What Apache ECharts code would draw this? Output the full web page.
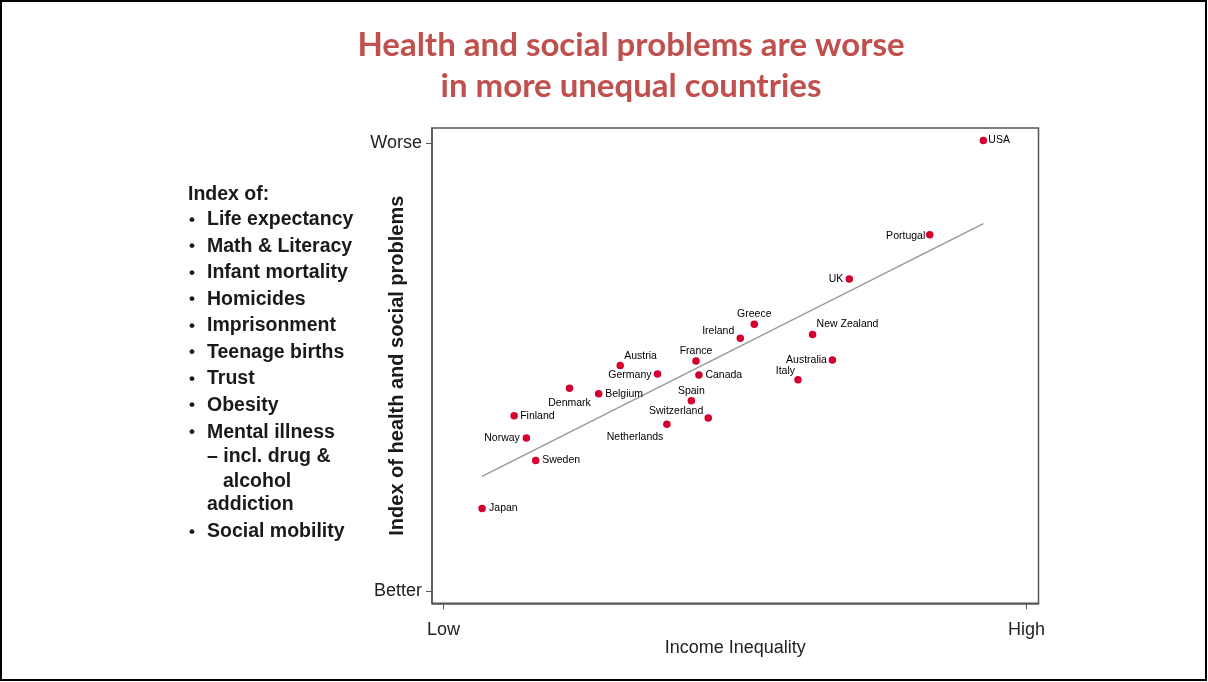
<!DOCTYPE html>
<html>
<head>
<meta charset="utf-8">
<script src="https://cdn.jsdelivr.net/npm/echarts@6/dist/echarts.min.js"></script>
<style>
html,body{margin:0;padding:0;background:#fff;}
#chart{width:1208px;height:682px;}
</style>
</head>
<body>
<div id="chart"></div>
<script>
// ---- data ----
const countries = ['USA','Portugal','UK','Greece','New Zealand','Ireland','France','Australia','Austria','Germany','Canada','Italy','Denmark','Belgium','Spain','Finland','Switzerland','Netherlands','Norway','Sweden','Japan'];
const incomeInequality = [92.6, 83.4, 69.6, 53.3, 63.3, 50.9, 43.3, 66.7, 30.3, 36.7, 43.8, 60.8, 21.6, 26.6, 42.5, 12.1, 45.4, 38.3, 14.2, 15.8, 6.6];
const healthSocialIndex = [100.6, 79.6, 69.7, 59.6, 57.3, 56.5, 51.4, 51.6, 50.4, 48.5, 48.3, 47.2, 45.3, 44.1, 42.5, 39.2, 38.7, 37.3, 34.2, 29.2, 18.5];
const tickValues = [0, 100];
const xTickLabels = ['Low', 'High'];
const yTickLabels = ['Better', 'Worse'];
const titleLines = ['Health and social problems are worse', 'in more unequal countries'];
const indexHeading = 'Index of:';
const indexItems = [
  ['Life expectancy'], ['Math & Literacy'], ['Infant mortality'], ['Homicides'],
  ['Imprisonment'], ['Teenage births'], ['Trust'], ['Obesity'],
  ['Mental illness', '– incl. drug &', '  alcohol', 'addiction'], ['Social mobility']
];

// ---- label placement (style only) ----
const labelPlacement = {
  'USA':[5,0,'left'], 'Portugal':[-4.5,1,'right'], 'UK':[-6,0.5,'right'], 'Greece':[0,-10,'center'],
  'New Zealand':[4,-10,'left'], 'Ireland':[-6,-7,'right'], 'France':[0,-10,'center'], 'Australia':[-5.5,0,'right'],
  'Austria':[4,-9,'left'], 'Germany':[-6,1,'right'], 'Canada':[6.5,0,'left'], 'Italy':[-3,-9,'right'],
  'Denmark':[0,15,'center'], 'Belgium':[6.5,0,'left'], 'Spain':[0,-10,'center'], 'Finland':[6,0,'left'],
  'Switzerland':[-5,-7,'right'], 'Netherlands':[-3.5,13,'right'], 'Norway':[-6.5,0,'right'], 'Sweden':[6.5,0,'left'],
  'Japan':[7,0,'left']
};

// ---- least squares fit ----
const n = incomeInequality.length;
const mx = incomeInequality.reduce((a,b)=>a+b,0)/n;
const my = healthSocialIndex.reduce((a,b)=>a+b,0)/n;
let sxy = 0, sxx = 0;
for (let i=0;i<n;i++){ sxy += (incomeInequality[i]-mx)*(healthSocialIndex[i]-my); sxx += (incomeInequality[i]-mx)**2; }
const slope = sxy/sxx, intercept = my - slope*mx;
const xMin = Math.min(...incomeInequality), xMax = Math.max(...incomeInequality);
const fitLine = [[xMin, intercept+slope*xMin],[xMax, intercept+slope*xMax]];

const scatterData = countries.map((c,i)=>{
  const p = labelPlacement[c];
  return {
    name: c,
    value: [incomeInequality[i], healthSocialIndex[i]],
    label: { position: 'inside', align: p[2], verticalAlign: 'middle', offset: [p[0], p[1]] }
  };
});

// ---- left text block ----
const FONT = 'Arial, "Liberation Sans", Helvetica, sans-serif';
const TXT = '#1a1a1a';
const listGraphics = [];
listGraphics.push({type:'text', x:188, y:195, style:{text:indexHeading, font:'bold 19.5px '+FONT, fill:TXT, align:'left', verticalAlign:'middle'}});
const lineYs = [220, 246.5, 273, 299.5, 326, 352.5, 379, 405.5, 432.5, 457, 481.5, 505, 532];
let li = 0;
indexItems.forEach(item=>{
  item.forEach((line,k)=>{
    const y = lineYs[li++];
    if (k===0) listGraphics.push({type:'text', x:192, y:y, style:{text:'•', font:'bold 17px '+FONT, fill:TXT, align:'center', verticalAlign:'middle'}});
    const indent = line.startsWith('  ') ? 16 : 0;
    listGraphics.push({type:'text', x:207+indent, y:y, style:{text:line.trim(), font:'bold 19.5px '+FONT, fill:TXT, align:'left', verticalAlign:'middle'}});
  });
});

const TITLE_FONT = 'bold 33px Lato, "Open Sans", sans-serif';

const chart = echarts.init(document.getElementById('chart'), null, {renderer:'canvas'});
chart.setOption({
  backgroundColor:'#fff',
  animation:false,
  graphic: [
    {type:'rect', shape:{x:1,y:1,width:1205,height:679}, style:{fill:'none', stroke:'#000', lineWidth:2}, z:100},
    {type:'text', x:631, y:45, style:{text:titleLines[0], font:TITLE_FONT, fill:'#c0504d', align:'center', verticalAlign:'middle'}},
    {type:'text', x:631, y:86, style:{text:titleLines[1], font:TITLE_FONT, fill:'#c0504d', align:'center', verticalAlign:'middle'}},
    ...listGraphics
  ],
  grid: {left:432, right:169.5, top:128, bottom:78.7, show:true, borderColor:'#555', borderWidth:1.5, backgroundColor:'#fff'},
  xAxis: {
    type:'value', min:-1.99, max:102.06,
    name:'Income Inequality', nameLocation:'middle', nameGap:36, nameMoveOverlap:false,
    nameTextStyle:{fontSize:18, color:'#222', fontFamily:FONT},
    axisLine:{show:true, onZero:false, lineStyle:{color:'#555', width:1.5}},
    axisTick:{show:true, length:6, customValues:tickValues, lineStyle:{color:'#555'}},
    axisLabel:{customValues:tickValues, margin:18, fontSize:18, color:'#222', fontFamily:FONT,
      formatter:(v)=>xTickLabels[tickValues.indexOf(v)] || ''},
    splitLine:{show:false}
  },
  yAxis: {
    type:'value', min:-2.68, max:103.4,
    name:'Index of health and social problems', nameLocation:'middle', nameGap:25, nameMoveOverlap:false,
    nameTextStyle:{fontSize:20, fontWeight:'bold', color:TXT, fontFamily:FONT},
    axisLine:{show:true, onZero:false, lineStyle:{color:'#555', width:1.5}},
    axisTick:{show:true, length:6, customValues:tickValues, lineStyle:{color:'#555'}},
    axisLabel:{customValues:tickValues, margin:10, fontSize:18, color:'#222', fontFamily:FONT,
      formatter:(v)=>yTickLabels[tickValues.indexOf(v)] || ''},
    splitLine:{show:false}
  },
  series: [
    {type:'line', data:fitLine, symbol:'none', lineStyle:{color:'#9a9a9a', width:1.5}, z:1, silent:true},
    {type:'scatter', data:scatterData, symbol:'circle', symbolSize:7.5,
      itemStyle:{color:'#d4002f', opacity:1}, z:3,
      label:{show:true, formatter:'{b}', fontSize:10.5, color:'#000', fontFamily:FONT}}
  ]
});
</script>
</body>
</html>
